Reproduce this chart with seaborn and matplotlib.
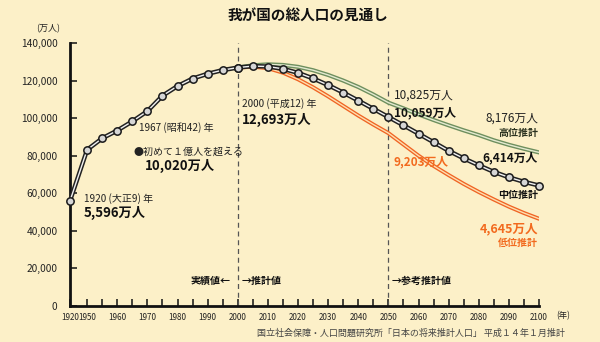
import matplotlib
matplotlib.use("Agg")
import matplotlib.pyplot as plt
import pandas as pd
import seaborn as sns

# ---- data (thousand persons) ----
hist_years = [1920, 1950, 1955, 1960, 1965, 1970, 1975, 1980, 1985, 1990, 1995, 2000]
hist_pop = [55963, 83200, 89276, 93419, 98275, 103720, 111940, 117060, 121049, 123611, 125570, 126926]

proj_years = [2000, 2005, 2010, 2015, 2020, 2025, 2030, 2035, 2040, 2045, 2050,
              2055, 2060, 2065, 2070, 2075, 2080, 2085, 2090, 2095, 2100]
mid_pop = [126926, 127708, 127473, 126266, 124107, 121136, 117580, 113602, 109338, 104960, 100593,
           96200, 91700, 87200, 82600, 78600, 74900, 71400, 68500, 66100, 64137]
high_pop = [126926, 128100, 128640, 128300, 127300, 125500, 123000, 120000, 116600, 112600, 108250,
            105200, 102000, 99000, 96200, 93500, 91000, 88200, 85800, 83700, 81760]
low_pop = [126926, 127400, 126600, 124200, 120700, 116400, 111600, 106500, 101400, 96600, 92030,
           86000, 80000, 74600, 69700, 65000, 60700, 56700, 52900, 49500, 46450]

x_tick_labels = ["1920", "1950", "1960", "1970", "1980", "1990", "2000", "2010", "2020",
                 "2030", "2040", "2050", "2060", "2070", "2080", "2090", "2100"]
y_ticks = [0, 20000, 40000, 60000, 80000, 100000, 120000, 140000]

POS_1920 = 1944.3  # broken axis: 1920 drawn just left of 1950


def pos(y):
    return POS_1920 if y == 1920 else y


hist = pd.DataFrame({"x": [pos(y) for y in hist_years], "pop": hist_pop})
proj = pd.DataFrame({"x": proj_years, "mid": mid_pop, "high": high_pop, "low": low_pop})

BG = "#fcf0c8"
sns.set_theme(style="ticks")
plt.rcParams["font.family"] = ["Noto Sans CJK JP", "DejaVu Sans"]

fig = plt.figure(figsize=(6.0, 3.42), dpi=100, facecolor=BG)
ax = fig.add_axes([70 / 600, 36 / 342, (539 - 70) / 600, (306 - 43) / 342])
ax.set_facecolor(BG)

# high / low variants (double lines)
sns.lineplot(data=proj, x="x", y="high", ax=ax, color="#6e8f5e", lw=3.0, zorder=2)
sns.lineplot(data=proj, x="x", y="high", ax=ax, color="#e4ead0", lw=1.0, zorder=2.1)
sns.lineplot(data=proj, x="x", y="low", ax=ax, color="#f06424", lw=2.9, zorder=2)
sns.lineplot(data=proj, x="x", y="low", ax=ax, color="#fde0b0", lw=1.0, zorder=2.1)

# medium + historical
for df, col in [(hist, "pop"), (proj, "mid")]:
    sns.lineplot(data=df, x="x", y=col, ax=ax, color="#222222", lw=3.2, zorder=3)
    sns.lineplot(data=df, x="x", y=col, ax=ax, color="#f2f2f2", lw=1.0, zorder=3.1)
    sns.scatterplot(data=df, x="x", y=col, ax=ax, s=28, color="#d6d6d6",
                    edgecolor="#1a1a1a", linewidth=1.1, zorder=4, clip_on=False)

# dashed separators
for xv in (2000, 2050):
    ax.axvline(xv, color="#555555", lw=0.9, ls=(0, (4, 3)), zorder=1)

ax.set_xlim(POS_1920, 2100)
ax.set_ylim(0, 140000)
ax.set_xlabel("")
ax.set_ylabel("")

major_x = [POS_1920] + list(range(1950, 2101, 10))
ax.set_xticks(major_x)
ax.set_xticklabels(x_tick_labels, fontsize=5.8, color="#222")
ax.set_xticks(list(range(1955, 2100, 10)), minor=True)
ax.set_yticks(y_ticks)
ax.set_yticklabels([f"{v:,}" for v in y_ticks], fontsize=7.3, color="#222")
ax.tick_params(axis="both", which="both", direction="in", length=5, width=1.1, color="#111")
ax.tick_params(axis="x", pad=5)
ax.tick_params(axis="y", pad=9)

for s in ("top", "right"):
    ax.spines[s].set_visible(False)
for s in ("left", "bottom"):
    ax.spines[s].set_linewidth(2.0)
    ax.spines[s].set_color("#111")


def px(xp, yp):
    return xp / 600, 1 - yp / 342


def T(xp, yp, s, size=7.5, weight="normal", color="#222", ha="left"):
    fig.text(*px(xp, yp), s, fontsize=size, fontweight=weight, color=color,
             ha=ha, va="center")


T(308, 15, "我が国の総人口の見通し", size=10.5, weight="bold", ha="center", color="#111")
T(48, 29, "(万人)", size=6.5, ha="center")
T(563, 316, "(年)", size=6, ha="center")

T(84, 199, "1920 (大正9) 年", size=7.2)
T(84, 213, "5,596万人", size=9.5, weight="bold", color="#111")
T(139, 128, "1967 (昭和42) 年", size=7.2)
T(134, 152, "●初めて１億人を超える", size=7.2)
T(145, 166, "10,020万人", size=9.5, weight="bold", color="#111")
T(242, 104, "2000 (平成12) 年", size=7.2)
T(242, 120, "12,693万人", size=9.5, weight="bold", color="#111")

T(394, 95, "10,825万人", size=8.5)
T(394, 113, "10,059万人", size=8.5, weight="bold", color="#111")
T(538, 118, "8,176万人", size=8.5, ha="right")
T(538, 133, "高位推計", size=7.2, weight="bold", ha="right", color="#2c3320")
T(538, 158, "6,414万人", size=8.5, weight="bold", ha="right", color="#111")
T(538, 195, "中位推計", size=7.2, weight="bold", ha="right", color="#111")
T(393, 162, "9,203万人", size=8.5, weight="bold", color="#f26a1e")
T(538, 229, "4,645万人", size=9, weight="bold", ha="right", color="#f26a1e")
T(538, 243, "低位推計", size=7.2, weight="bold", ha="right", color="#f26a1e")

T(231, 281, "実績値←", size=7.2, weight="bold", ha="right", color="#111")
T(242, 281, "→推計値", size=7.2, weight="bold", color="#111")
T(392, 281, "→参考推計値", size=7.2, weight="bold", color="#111")

T(565, 333, "国立社会保障・人口問題研究所「日本の将来推計人口」 平成１４年１月推計",
  size=6.5, ha="right", color="#444")

fig.savefig("out.png", dpi=100, facecolor=BG)
